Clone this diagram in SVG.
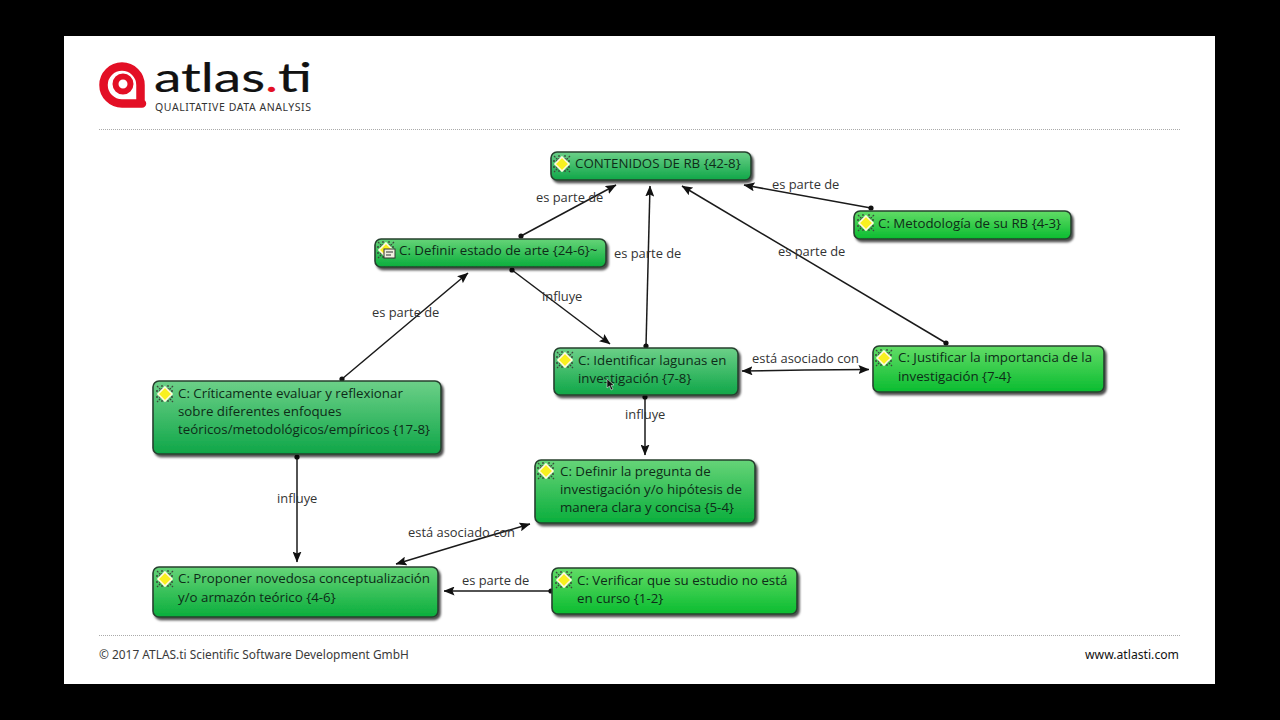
<svg xmlns="http://www.w3.org/2000/svg" width="1280" height="720" viewBox="0 0 1280 720">
<style>
.n{stroke:#27402f;stroke-width:1.6}
.t{font:13.3px "Open Sans","Noto Sans",sans-serif;fill:#0e2c18}
.l{font:12.9px "Open Sans","Noto Sans",sans-serif;fill:#333}
.c{stroke:#1a1a1a;stroke-width:1.5;fill:none}
.f{font:11.9px "Noto Sans","Open Sans",sans-serif;fill:#3a3a3a}
</style>
<defs>
<linearGradient id="g1" x1="0" y1="0" x2="0" y2="1"><stop offset="0" stop-color="#6cd088"/><stop offset="1" stop-color="#0fa648"/></linearGradient>
<linearGradient id="g2" x1="0" y1="0" x2="0" y2="1"><stop offset="0" stop-color="#66d478"/><stop offset="1" stop-color="#0aae3c"/></linearGradient>
<linearGradient id="g3" x1="0" y1="0" x2="0" y2="1"><stop offset="0" stop-color="#62dc66"/><stop offset="1" stop-color="#0abc30"/></linearGradient>
<filter id="s" x="-5%" y="-10%" width="110%" height="130%"><feDropShadow dx="2" dy="2.500" stdDeviation="1.300" flood-color="#000" flood-opacity=".7"/></filter>
<marker id="a" viewBox="0 0 11 9" refX="10.500" refY="4.500" markerWidth="11" markerHeight="9" markerUnits="userSpaceOnUse" orient="auto"><path d="M0 0L11 4.500L0 9L2 4.500Z" fill="#111"/></marker>
<marker id="d" viewBox="0 0 8 8" refX="4" refY="4" markerWidth="8" markerHeight="8" markerUnits="userSpaceOnUse"><circle cx="4" cy="4" r="2.600" fill="#111"/></marker>
<g id="i"><path d="M-8 -8L8 8M8 -8L-8 8M-3 -9V9M3 -9V9M-9 -3H9M-9 3H9" stroke="#3c4a3c" stroke-width="1.300" stroke-dasharray="2 1"/><path d="M0 -7L7 0L0 7L-7 0Z" fill="#f8f020" stroke="#fffbe0" stroke-width="1.600"/></g>
</defs>
<rect width="1280" height="720" fill="#000"/>
<rect x="64" y="36" width="1151" height="648" fill="#fff"/>
<g id="logo">
<path d="M142 103.500H122A18.500 18.500 0 1 1 140.500 85V103" fill="none" stroke="#e30f25" stroke-width="8.500" stroke-linecap="round"/>
<circle cx="123" cy="84" r="7.500" fill="none" stroke="#e30f25" stroke-width="6"/>
<text x="154" y="92" font-family="Lato,sans-serif" font-size="40" textLength="158" lengthAdjust="spacingAndGlyphs" fill="#111" stroke="#111" stroke-width=".2">atlas<tspan fill="#e30f25" stroke="#e30f25">.</tspan>ti</text>
<text x="155" y="111" font-family="'Noto Sans',sans-serif" font-size="10.500" textLength="156" lengthAdjust="spacing" fill="#333">QUALITATIVE DATA ANALYSIS</text>
</g>
<path d="M99 129.500H1180M99 635.500H1180" stroke="#aaa" stroke-dasharray="1 1" fill="none"/>
<g id="connectors">
<path class="c" marker-start="url(#d)" marker-end="url(#a)" d="M521 236L616 185"/>
<path class="c" marker-start="url(#d)" marker-end="url(#a)" d="M646 346L650 186"/>
<path class="c" marker-start="url(#d)" marker-end="url(#a)" d="M946 343L682 186"/>
<path class="c" marker-start="url(#d)" marker-end="url(#a)" d="M871 208L744 185"/>
<path class="c" marker-start="url(#d)" marker-end="url(#a)" d="M342 379L468 273"/>
<path class="c" marker-start="url(#d)" marker-end="url(#a)" d="M512 270L610 344"/>
<path class="c" marker-start="url(#d)" marker-end="url(#a)" d="M645 397V455"/>
<path class="c" marker-start="url(#d)" marker-end="url(#a)" d="M297 457V562"/>
<path class="c" marker-end="url(#a)" d="M805 370L742 371"/><path class="c" marker-end="url(#a)" d="M805 370L869 369.500"/>
<path class="c" marker-end="url(#a)" d="M462 544L396 564"/><path class="c" marker-end="url(#a)" d="M462 544L530 524"/>
<path class="c" marker-start="url(#d)" marker-end="url(#a)" d="M551 591H444"/>
</g>
<g id="labels">
<text class="l" x="536" y="202">es parte de</text>
<text class="l" x="772" y="189">es parte de</text>
<text class="l" x="614" y="258">es parte de</text>
<text class="l" x="778" y="256">es parte de</text>
<text class="l" x="372" y="317">es parte de</text>
<text class="l" x="542" y="301">influye</text>
<text class="l" x="625" y="419">influye</text>
<text class="l" x="277" y="503">influye</text>
<text class="l" x="752" y="363">está asociado con</text>
<text class="l" x="408" y="537">está asociado con</text>
<text class="l" x="462" y="585">es parte de</text>
</g>
<g id="n1"><rect class="n" x="551" y="152" width="200" height="28" rx="6" fill="url(#g1)" filter="url(#s)"/><use href="#i" x="562" y="164"/><text class="t" x="575" y="168">CONTENIDOS DE RB {42-8}</text></g>
<g id="n2"><rect class="n" x="854" y="211" width="217" height="28" rx="6" fill="url(#g3)" filter="url(#s)"/><use href="#i" x="866" y="223"/><text class="t" x="878" y="228">C: Metodología de su RB {4-3}</text></g>
<g id="n3"><rect class="n" x="375" y="239" width="231" height="28" rx="6" fill="url(#g2)" filter="url(#s)"/><use href="#i" x="386" y="250"/><rect x="384" y="249" width="11" height="9" fill="#f0f0e0" stroke="#333"/><path d="M386 252H393M386 255H391" stroke="#333"/><text class="t" x="399" y="255">C: Definir estado de arte {24-6}~</text></g>
<g id="n4"><rect class="n" x="554" y="348" width="184" height="47" rx="6" fill="url(#g1)" filter="url(#s)"/><use href="#i" x="565" y="360"/><text class="t" x="578" y="365">C: Identificar lagunas en</text><text class="t" x="578" y="383">investigación {7-8}</text><path d="M607 379V388L609.500 386L611 390L613 389L611 385.500L614 385Z" fill="#111" stroke="#fff" stroke-width=".5"/></g>
<g id="n5"><rect class="n" x="873" y="346" width="231" height="46" rx="6" fill="url(#g3)" filter="url(#s)"/><use href="#i" x="884" y="358"/><text class="t" x="898" y="362">C: Justificar la importancia de la</text><text class="t" x="898" y="381">investigación {7-4}</text></g>
<g id="n6"><rect class="n" x="153" y="381" width="288" height="73" rx="6" fill="url(#g1)" filter="url(#s)"/><use href="#i" x="165" y="394"/><text class="t" x="178" y="398">C: Críticamente evaluar y reflexionar</text><text class="t" x="178" y="416">sobre diferentes enfoques</text><text class="t" x="178" y="434">teóricos/metodológicos/empíricos {17-8}</text></g>
<g id="n7"><rect class="n" x="535" y="460" width="220" height="63" rx="6" fill="url(#g2)" filter="url(#s)"/><use href="#i" x="546" y="471"/><text class="t" x="560" y="476">C: Definir la pregunta de</text><text class="t" x="560" y="494">investigación y/o hipótesis de</text><text class="t" x="560" y="512">manera clara y concisa {5-4}</text></g>
<g id="n8"><rect class="n" x="153" y="567" width="285" height="50" rx="6" fill="url(#g2)" filter="url(#s)"/><use href="#i" x="165" y="579"/><text class="t" x="178" y="583">C: Proponer novedosa conceptualización</text><text class="t" x="178" y="602">y/o armazón teórico {4-6}</text></g>
<g id="n9"><rect class="n" x="552" y="568" width="245" height="46" rx="6" fill="url(#g3)" filter="url(#s)"/><use href="#i" x="564" y="580"/><text class="t" x="577" y="585">C: Verificar que su estudio no está</text><text class="t" x="577" y="603">en curso {1-2}</text></g>
<g id="footer"><text class="f" x="99" y="659">© 2017 ATLAS.ti Scientific Software Development GmbH</text><text class="f" x="1085" y="659" style="fill:#111;font-size:12.2px">www.atlasti.com</text></g>
</svg>
